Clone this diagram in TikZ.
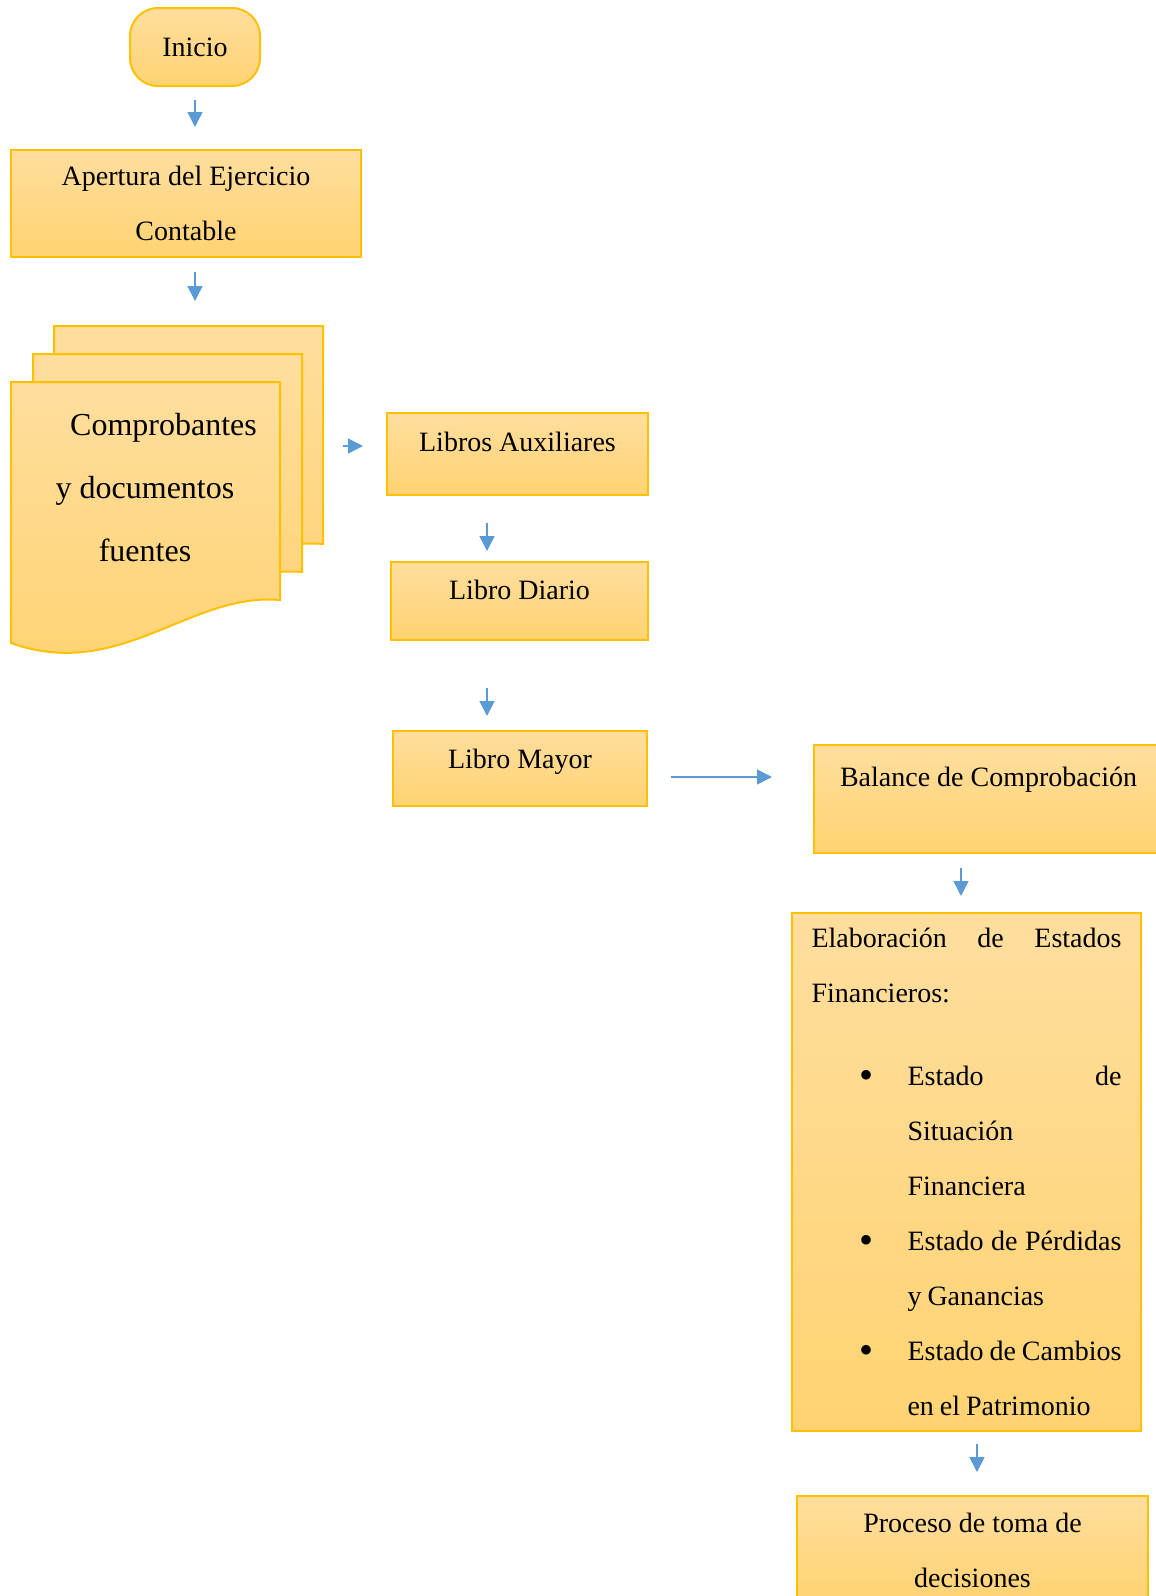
\documentclass[tikz,border=0pt]{standalone}
\usepackage{fontspec}
\setmainfont{Liberation Serif}
\usepackage{tikz}
\usetikzlibrary{arrows.meta}

\definecolor{amarilloclaro}{RGB}{255,222,158}
\definecolor{amarillo}{RGB}{255,211,114}
\definecolor{borde}{RGB}{255,192,0}
\definecolor{azul}{RGB}{91,155,213}

\tikzset{
  caja/.style={draw=borde, line width=1pt, top color=amarilloclaro, bottom color=amarillo,
    font=\fontsize{14}{27.5}\selectfont, inner sep=0pt},
  flecha/.style={draw=azul, line width=0.75pt, -{Triangle[length=7.5pt,width=7.5pt]}},
}
\newcommand{\vineta}{\makebox[48pt][l]{\hspace*{24pt}\raisebox{-1.2pt}{\fontsize{20}{20}\selectfont\textbullet}}}
\newcommand{\sangria}{\hspace*{48pt}}
\newcommand{\espacios}{\spaceskip=3pt plus 1pt minus 1.5pt\relax}

\begin{document}
\begin{tikzpicture}[x=0.5pt,y=-0.5pt]
  \clip (0,0) rectangle (1156,1596);

  % inicio y apertura
  \node[caja, rounded corners=14pt, minimum width=65pt, minimum height=39pt] (inicio) at (195,47) {Inicio};
  \node[caja, align=center, minimum width=175pt, minimum height=53.5pt] (apertura) at (186,203.5)
    {Apertura del Ejercicio\\ Contable};

  % pila de documentos
  \foreach \dx/\dy in {43/-56, 22/-28, 0/0} {
    \begin{scope}[shift={(\dx,\dy)}]
      \draw[draw=borde, line width=1pt, top color=amarilloclaro, bottom color=amarillo]
        (11,382) -- (280,382) -- (280,600) .. controls (190,592) and (120,682) .. (11,643) -- cycle;
    \end{scope}
  }
  \node[font=\fontsize{16}{31.5}\selectfont, align=center] (comprobantes) at (145,488)
    {\hspace*{18.5pt}Comprobantes\\ y documentos\\ fuentes};
  \coordinate (pila) at (195,326);
  \coordinate (pilaeste) at (324,446);

  % libros
  \node[caja, minimum width=130.5pt, minimum height=41pt, text height=10pt, text depth=13pt] (auxiliares) at (517.5,454) {Libros Auxiliares};
  \node[caja, minimum width=128.5pt, minimum height=39pt, text height=10pt, text depth=12pt] (diario) at (519.5,601) {Libro Diario};
  \node[caja, minimum width=127pt, minimum height=37.5pt, text height=10pt, text depth=10.5pt] (mayor) at (520,768.5) {Libro Mayor};

  % balance y estados
  \node[caja, minimum width=174.5pt, minimum height=54pt, text height=10pt, text depth=23pt] (balance) at (988.5,799) {Balance de Comprobación};
  \node[caja, align=left, text width=155pt, inner xsep=9.75pt, minimum width=174.5pt, minimum height=259pt] (estados) at (966.5,1172)
    {\espacios Elaboración \hfill de \hfill Estados\\
     Financieros:\\[14pt]
     \vineta Estado \hfill de\\
     \sangria Situación\\
     \sangria Financiera\\
     \makebox[\linewidth][s]{\vineta Estado de Pérdidas}\\
     \sangria y Ganancias\\
     \makebox[\linewidth][s]{\vineta Estado de Cambios}\\
     \sangria en el Patrimonio};
  \node[caja, align=center, minimum width=175.5pt, minimum height=54pt] (proceso) at (972.5,1550)
    {Proceso de toma de\\ decisiones};

  % flechas
  \draw[flecha, shorten <=6.5pt, shorten >=11pt] (inicio.south) -- (inicio.south |- apertura.north);
  \draw[flecha, shorten <=7pt, shorten >=12.5pt] (apertura.south -| pila) -- (pila);
  \draw[flecha, shorten <=9.5pt, shorten >=11.5pt] (pilaeste) -- (pilaeste -| auxiliares.west);
  \draw[flecha, shorten <=13.5pt, shorten >=5pt] ([xshift=-15.25pt]auxiliares.south) -- ([xshift=-15.25pt]auxiliares.south |- diario.north);
  \draw[flecha, shorten <=23.5pt, shorten >=7pt] ([xshift=-16.25pt]diario.south) -- ([xshift=-16.25pt]diario.south |- mayor.north);
  \draw[flecha, shorten <=11.5pt, shorten >=20.5pt] ([yshift=-4.25pt]mayor.east) -- ([yshift=-4.25pt]mayor.east -| balance.west);
  \draw[flecha, shorten <=7pt, shorten >=8pt] ([xshift=-13.75pt]balance.south) -- ([xshift=-13.75pt]balance.south |- estados.north);
  \draw[flecha, shorten <=6pt, shorten >=11.5pt] ([xshift=5.25pt]estados.south) -- ([xshift=5.25pt]estados.south |- proceso.north);
\end{tikzpicture}
\end{document}
